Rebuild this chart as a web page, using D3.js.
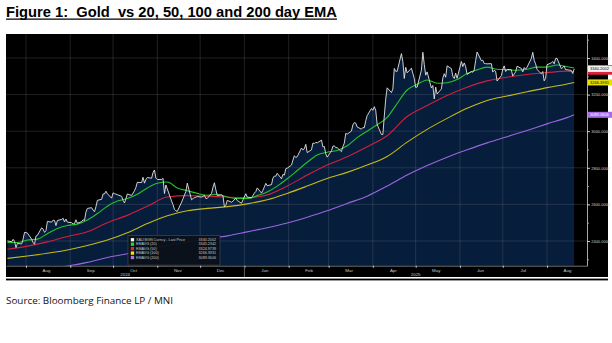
<!DOCTYPE html>
<html><head><meta charset="utf-8">
<script src="https://cdn.jsdelivr.net/npm/d3@7"></script>
<style>
html,body{margin:0;padding:0;background:#fff;}
svg{display:block;}
</style></head><body>
<svg id="c" width="612" height="343"></svg>
<script>
// ---------------- DATA ----------------
const priceDates = [
"240719","240722","240723","240724","240725","240726","240729","240730","240731",
"240801","240802","240805","240806","240807","240808","240809","240812","240813","240814","240815","240816","240819","240820","240821","240822","240823","240826","240827","240828","240829","240830",
"240902","240903","240904","240905","240906","240909","240910","240911","240912","240913","240916","240917","240918","240919","240920","240923","240924","240925","240926","240927","240930",
"241001","241002","241003","241004","241007","241008","241009","241010","241011","241014","241015","241016","241017","241018","241021","241022","241023","241024","241025","241028","241029","241030","241031",
"241101","241104","241105","241106","241107","241108","241111","241112","241113","241114","241115","241118","241119","241120","241121","241122","241125","241126","241127","241128","241129",
"241202","241203","241204","241205","241206","241209","241210","241211","241212","241213","241216","241217","241218","241219","241220","241223","241224","241226","241227","241230","241231",
"250102","250103","250106","250107","250108","250109","250110","250113","250114","250115","250116","250117","250120","250121","250122","250123","250124","250127","250128","250129","250130","250131",
"250203","250204","250205","250206","250207","250210","250211","250212","250213","250214","250217","250218","250219","250220","250221","250224","250225","250226","250227","250228",
"250303","250304","250305","250306","250307","250310","250311","250312","250313","250314","250317","250318","250319","250320","250321","250324","250325","250326","250327","250328","250331",
"250401","250402","250403","250404","250407","250408","250409","250410","250411","250414","250415","250416","250417","250418","250421","250422","250423","250424","250425","250428","250429","250430",
"250501","250502","250505","250506","250507","250508","250509","250512","250513","250514","250515","250516","250519","250520","250521","250522","250523","250526","250527","250528","250529","250530",
"250602","250603","250604","250605","250606","250609","250610","250611","250612","250613","250616","250617","250618","250619","250620","250623","250624","250625","250626","250627","250630",
"250701","250702","250703","250704","250707","250708","250709","250710","250711","250714","250715","250716","250717","250718","250721","250722","250723","250724","250725","250728","250729","250730","250731",
"250801","250804","250805","250806","250807","250808","250811","250812","250813","250814","250815","250818","250819","250820"];
const priceValues = [
2400,2396,2409,2398,2364,2387,2384,2411,2447,
2446,2443,2410,2390,2383,2427,2431,2472,2465,2447,2456,2507,2503,2514,2512,2484,2512,2518,2524,2504,2520,2503,
2500,2493,2495,2516,2497,2506,2516,2512,2558,2578,2582,2569,2560,2587,2622,2628,2657,2657,2672,2658,2634,
2663,2659,2656,2653,2644,2622,2608,2631,2657,2649,2662,2674,2693,2721,2719,2748,2716,2736,2747,2743,2774,2788,2744,
2736,2736,2742,2659,2706,2685,2618,2598,2573,2565,2562,2612,2631,2651,2670,2716,2625,2632,2637,2639,2643,
2640,2643,2650,2632,2633,2660,2694,2718,2680,2648,2652,2646,2587,2595,2622,2612,2618,2634,2621,2606,2625,
2658,2640,2636,2649,2662,2670,2690,2662,2677,2696,2715,2702,2708,2744,2755,2754,2770,2740,2764,2760,2795,2798,
2815,2842,2866,2856,2861,2908,2898,2904,2928,2883,2898,2935,2933,2939,2936,2951,2914,2916,2876,2858,
2893,2918,2920,2910,2910,2888,2916,2935,2988,2984,3001,3035,3047,3044,3023,3011,3020,3019,3057,3085,3124,
3114,3134,3114,3037,2982,2982,3083,3175,3237,3211,3230,3343,3327,3327,3424,3381,3288,3349,3319,3344,3316,3288,
3239,3241,3334,3431,3365,3306,3324,3236,3250,3176,3241,3203,3231,3290,3314,3295,3357,3342,3300,3288,3317,3289,
3381,3353,3373,3353,3310,3326,3322,3334,3386,3433,3385,3388,3370,3369,3368,3369,3323,3333,3328,3274,3303,
3338,3357,3326,3337,3336,3301,3313,3324,3355,3343,3324,3348,3339,3350,3397,3431,3387,3368,3337,3314,3326,3275,3290,
3363,3373,3381,3368,3397,3398,3342,3348,3356,3336,3336,3332,3315,3340.2];

const ema20Dates = ["240719","240726","240802","240809","240816","240823","240830","240906","240913","240920","240927",
"241004","241011","241018","241025","241101","241108","241115","241122","241129","241206","241213","241220","241227",
"250103","250110","250117","250124","250131","250207","250214","250221","250228","250307","250314","250321","250328",
"250404","250411","250417","250425","250502","250509","250516","250523","250530","250606","250613","250620","250627",
"250704","250711","250718","250725","250801","250808","250815","250820"];
const ema20Values = [2392,2392,2405,2410,2440,2468,2485,2492,2515,2550,2590,
2618,2632,2655,2690,2715,2722,2690,2675,2660,2650,2655,2640,2632,
2632,2648,2668,2700,2740,2785,2830,2870,2885,2895,2920,2965,3000,
3035,3075,3140,3225,3255,3280,3262,3265,3282,3315,3335,3350,3338,
3336,3333,3338,3350,3350,3362,3352,3345.23];

const emaBiDates = ["240719","240802","240816","240830","240913","240927","241011","241025","241108","241122","241206","241220",
"250103","250117","250131","250214","250228","250314","250328","250411","250425","250509","250523","250606","250620",
"250704","250718","250801","250815","250820"];
const ema50Values = [2355,2372,2395,2425,2450,2500,2540,2590,2640,2648,2645,2640,
2637,2652,2700,2760,2815,2860,2915,2975,3080,3140,3195,3240,3275,
3295,3310,3320,3328,3324.97];
const ema100Values = [2305,2318,2333,2351,2375,2405,2445,2495,2538,2565,2578,2588,
2603,2625,2660,2700,2742,2775,2815,2862,2940,3010,3070,3125,3168,
3192,3215,3238,3258,3266.39];
const ema200Values = [2228,2240,2252,2263,2283,2310,2330,2355,2376,2395,2412,2428,
2450,2472,2498,2530,2565,2605,2645,2700,2760,2812,2858,2898,2936,
2970,3004,3040,3074,3089.36];

const legendLabels = ["XAU BGN Curncy - Last Price","EMAVG (20)","EMAVG (50)","EMAVG (100)","EMAVG (200)"];
const legendValues = ["3340.2002","3345.2342","3324.9739","3266.3931","3089.3606"];
const yTickValues = [2400,2600,2800,3000,3200,3400];
const yMinorValues = [2300,2500,2700,2900,3100,3300,3500];
const yearLabels = ["2024","2025"];
const titleText = "Figure 1:  Gold  vs 20, 50, 100 and 200 day EMA";
const sourceText = "Source: Bloomberg Finance LP / MNI";

// ---------------- DRAW ----------------
const parse = d3.timeParse("%y%m%d");
const svg = d3.select("#c");
const FONT = "Liberation Sans, Arial, sans-serif";
const L = 6, R = 587, T = 34, B = 265.7;

const x = d3.scaleTime().domain([new Date(2024,6,18), new Date(2025,7,29)]).range([L, R]);
const y = d3.scaleLinear().domain([2265, 3531]).range([B, T]);

// title
svg.append("text").attr("x",6).attr("y",17).attr("font-family",FONT).attr("font-weight","bold")
  .attr("font-size",15).attr("fill","#000").style("white-space","pre")
  .attr("textLength",331).attr("lengthAdjust","spacingAndGlyphs").text(titleText);
svg.append("line").attr("x1",6).attr("x2",337).attr("y1",19.2).attr("y2",19.2).attr("stroke","#000").attr("stroke-width",1.2);

// black frame
svg.append("rect").attr("x",6).attr("y",34).attr("width",602).attr("height",243).attr("fill","#000");
svg.append("rect").attr("x",6).attr("y",278.6).attr("width",602).attr("height",1.8).attr("fill","#000");

// source
svg.append("text").attr("x",6).attr("y",304).attr("font-family","Open Sans, Liberation Sans, sans-serif")
  .attr("font-size",8.3).attr("fill","#111").attr("textLength",167).attr("lengthAdjust","spacingAndGlyphs").text(sourceText);

svg.append("defs").append("clipPath").attr("id","pc").append("rect")
  .attr("x",L).attr("y",T).attr("width",R-L).attr("height",B-T);

const price = priceDates.map((d,i)=>({date:parse(d), v:priceValues[i]}));
const mk = (ds, vs) => ds.map((d,i)=>({date:parse(d), v:vs[i]}));
const e20 = mk(ema20Dates, ema20Values);
const e50 = mk(emaBiDates, ema50Values);
const e100 = mk(emaBiDates, ema100Values);
const e200 = mk(emaBiDates, ema200Values);

const plot = svg.append("g").attr("clip-path","url(#pc)");

// area under price
plot.append("path").datum(price)
  .attr("d", d3.area().x(d=>x(d.date)).y0(B).y1(d=>y(d.v)))
  .attr("fill","#061d3c");

// grid
const monthStarts = d3.timeMonths(new Date(2024,7,1), new Date(2025,7,2));
plot.selectAll(".vg").data(monthStarts).join("line")
  .attr("x1",d=>x(d)).attr("x2",d=>x(d)).attr("y1",T).attr("y2",B)
  .attr("stroke","rgba(125,125,135,0.33)").attr("stroke-width",0.8);
plot.selectAll(".hg").data(yTickValues).join("line")
  .attr("x1",L).attr("x2",R).attr("y1",d=>y(d)).attr("y2",d=>y(d))
  .attr("stroke","rgba(125,125,135,0.33)").attr("stroke-width",0.8);

// lines
const lineS = d3.line().x(d=>x(d.date)).y(d=>y(d.v));
const lineC = d3.line().x(d=>x(d.date)).y(d=>y(d.v)).curve(d3.curveMonotoneX);
plot.append("path").datum(e200).attr("d",lineC).attr("fill","none").attr("stroke","#9a66e0").attr("stroke-width",1.1);
plot.append("path").datum(e100).attr("d",lineC).attr("fill","none").attr("stroke","#c6bb14").attr("stroke-width",1.1);
plot.append("path").datum(e50).attr("d",lineC).attr("fill","none").attr("stroke","#d0213c").attr("stroke-width",1.1);
plot.append("path").datum(e20).attr("d",lineC).attr("fill","none").attr("stroke","#25c22a").attr("stroke-width",1.1);
plot.append("path").datum(price).attr("d",lineS).attr("fill","none").attr("stroke","#e4e4e4").attr("stroke-width",0.9);

// right axis
const gy2 = svg.append("g").attr("transform",`translate(${R},0)`)
  .call(d3.axisRight(y).tickValues(yMinorValues).tickSize(1.8).tickSizeOuter(0).tickFormat(""));
gy2.select(".domain").remove();
gy2.selectAll(".tick line").attr("stroke","#bdbdbd");
const gy = svg.append("g").attr("transform",`translate(${R},0)`)
  .call(d3.axisRight(y).tickValues(yTickValues).tickSize(3).tickSizeOuter(0).tickPadding(1.2).tickFormat(d3.format(".4f")));
gy.select(".domain").attr("stroke","#a8a8a8").attr("stroke-width",1);
gy.selectAll(".tick line").attr("stroke","#d0d0d0");
gy.selectAll(".tick text").attr("fill","#cfcfcf").attr("font-size",4).attr("font-family",FONT);

// bottom axis
const gx = svg.append("g").attr("transform",`translate(0,${B})`)
  .call(d3.axisBottom(x).tickValues(monthStarts).tickSize(2).tickSizeOuter(0).tickFormat(""));
gx.select(".domain").attr("stroke","#8c8c8c").attr("stroke-width",0.8);
gx.selectAll(".tick line").attr("stroke","#d8d8d8");
const midMonths = monthStarts.map(d=>d3.timeDay.offset(d,14));
const gxl = svg.append("g").attr("transform",`translate(0,${B})`)
  .call(d3.axisBottom(x).tickValues(midMonths).tickSize(0).tickPadding(3).tickFormat(d3.timeFormat("%b")));
gxl.select(".domain").remove();
gxl.selectAll(".tick text").attr("fill","#c8c8c8").attr("font-size",4.4).attr("font-family",FONT);

// year separator and labels
const jan1 = new Date(2025,0,1);
svg.append("line").attr("x1",x(jan1)).attr("x2",x(jan1)).attr("y1",B).attr("y2",277).attr("stroke","#7a7a7a").attr("stroke-width",0.8);
const yearPos = [(L + x(jan1))/2, (x(jan1) + R)/2];
svg.selectAll(".yl").data(yearLabels).join("text")
  .attr("x",(d,i)=>yearPos[i]).attr("y",275.8).attr("text-anchor","middle")
  .attr("fill","#c8c8c8").attr("font-size",4.4).attr("font-family",FONT).text(d=>d);

// last value tags (EMA20 / EMA50 tags are hidden under the price tag, as in the source)
const tags = [
  {v:ema200Values[ema200Values.length-1], t:legendValues[4], fill:"#a56ee6", tc:"#ffffff", show:true},
  {v:ema100Values[ema100Values.length-1], t:legendValues[3], fill:"#e6e000", tc:"#000", show:true},
  {v:ema50Values[ema50Values.length-1], t:legendValues[2], fill:"#e0203a", tc:"#fff", show:false},
  {v:ema20Values[ema20Values.length-1], t:legendValues[1], fill:"#22cc22", tc:"#000", show:false},
  {v:priceValues[priceValues.length-1], t:legendValues[0], fill:"#f2f2f2", tc:"#000", show:true}
];
const tg = svg.selectAll(".tag").data(tags).join("g");
tg.append("rect").attr("x",R+0.8).attr("y",d=>y(d.v)-3).attr("width",30).attr("height",6).attr("fill",d=>d.fill);
tg.filter(d=>d.show).append("text").attr("x",R+3).attr("y",d=>y(d.v)+1.5).attr("fill",d=>d.tc)
  .attr("font-size",4).attr("font-family",FONT).text(d=>d.t);

// legend
const legColors = ["#ffffff","#22dd22","#e8203a","#f0e800","#b070f0"];
const lg = svg.append("g").attr("transform","translate(128,235.5)");
lg.append("rect").attr("width",92).attr("height",29.6).attr("fill","#0b1119").attr("fill-opacity",0.96)
  .attr("stroke","#4a4f58").attr("stroke-width",0.6);
const rows = lg.selectAll(".row").data(legendLabels).join("g")
  .attr("transform",(d,i)=>`translate(0,${4.2 + i*4.45})`);
rows.append("rect").attr("x",2.8).attr("y",-1.6).attr("width",3.3).attr("height",3.3).attr("fill",(d,i)=>legColors[i]);
rows.append("text").attr("x",8).attr("y",1.3).attr("fill","#c8c8c8").attr("font-size",3.7).attr("font-family",FONT).text(d=>d);
rows.append("text").attr("x",88).attr("y",1.3).attr("text-anchor","end").attr("fill","#c8c8c8")
  .attr("font-size",3.7).attr("font-family",FONT).text((d,i)=>legendValues[i]);
</script>
</body></html>
